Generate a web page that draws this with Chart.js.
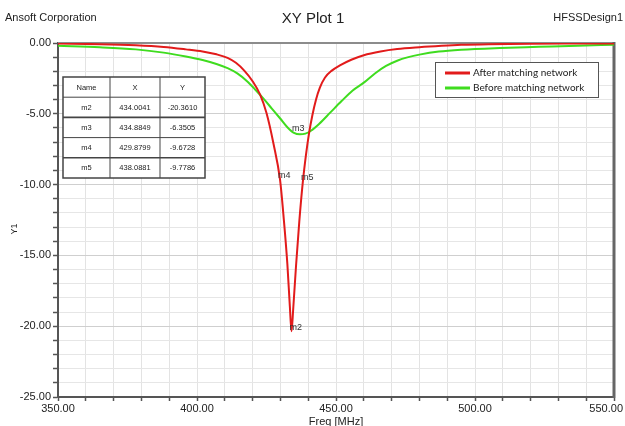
<!DOCTYPE html>
<html>
<head>
<meta charset="utf-8">
<script src="https://cdn.jsdelivr.net/npm/chart.js@4.4.1/dist/chart.umd.min.js"></script>
<style>
  html, body { margin: 0; padding: 0; background: #fff; overflow: hidden; }
  #wrap { width: 625px; height: 426px; }
</style>
</head>
<body>
<div id="wrap"><canvas id="c" width="625" height="426"></canvas></div>
<script>
// S11 sweep, dB versus frequency in MHz
const freqAfter = [350, 365, 378, 388, 396, 402, 407, 411, 414, 417, 420, 422.7, 425, 427.5,
  429.8799, 431.2, 432.5, 433.4, 434.0041, 434.6, 435.6, 436.8, 438.0881, 439.2, 440.2, 441.5, 442.8,
  444.2, 446, 448.5, 451.4, 455.5, 460, 466, 472, 480, 488, 495, 505, 520, 535, 550];
const lossAfter = [-0.04, -0.08, -0.16, -0.28, -0.45, -0.6, -0.8, -1.05, -1.4, -1.95, -2.7, -3.65, -4.95, -7.1,
  -9.6728, -12.4, -15.6, -18.6, -20.361, -18.8, -15.8, -12.6, -9.7786, -7.9, -6.5, -5.1, -4.0,
  -3.15, -2.45, -1.95, -1.58, -1.18, -0.86, -0.6, -0.43, -0.3, -0.2, -0.13, -0.08, -0.05, -0.04, -0.03];

const freqBefore = [350, 365, 378, 388, 396, 402, 407, 411, 414.5, 418, 421, 424, 427, 430, 432.5,
  434.8849, 437, 439, 441, 444, 448, 452, 456, 460, 464, 468, 472, 476, 480, 487, 495, 509, 523, 537, 550];
const lossBefore = [-0.2, -0.3, -0.45, -0.68, -0.95, -1.2, -1.48, -1.78, -2.15, -2.7, -3.3, -3.95, -4.65, -5.35, -5.95,
  -6.3505, -6.45, -6.4, -6.2, -5.7, -4.9, -4.1, -3.35, -2.8, -2.15, -1.62, -1.25, -1.0, -0.82, -0.6, -0.47, -0.35, -0.27, -0.19, -0.12];

const seriesNames = ['After matching network', 'Before matching network'];

// marker readouts
const markerNames = ['m2', 'm3', 'm4', 'm5'];
const markerFreq = [434.0041, 434.8849, 429.8799, 438.0881];
const markerLoss = [-20.3610, -6.3505, -9.6728, -9.7786];

// labelled ticks
const xMajorTicks = [350, 400, 450, 500, 550];
const yMajorTicks = [0, -5, -10, -15, -20, -25];

const FONT = '"Liberation Sans", Arial, sans-serif';
const RED = '#e21b1b';
const GREEN = '#3fdc1f';

const toPoints = (xs, ys) => xs.map((x, i) => ({ x: x, y: ys[i] }));

const decorations = {
  id: 'decorations',
  beforeDatasetsDraw(chart) {
    const { ctx, chartArea: a } = chart;
    ctx.save();
    ctx.strokeStyle = '#8c8c8c';
    ctx.lineWidth = 2;
    ctx.beginPath(); ctx.moveTo(a.left, a.top); ctx.lineTo(a.right, a.top); ctx.stroke();
    ctx.strokeStyle = '#666';
    ctx.lineWidth = 3;
    ctx.beginPath(); ctx.moveTo(a.right, a.top - 1); ctx.lineTo(a.right, a.bottom + 1); ctx.stroke();
    ctx.restore();
  },
  afterDraw(chart) {
    const { ctx, chartArea: a, scales } = chart;
    const xs = scales.x, ys = scales.y;
    ctx.save();
    ctx.fillStyle = '#222';

    // header texts
    ctx.textBaseline = 'middle';
    ctx.font = '11px ' + FONT;
    ctx.textAlign = 'left';
    ctx.fillText('Ansoft Corporation', 5, 18);
    ctx.textAlign = 'right';
    ctx.fillText('HFSSDesign1', 623, 18);
    ctx.textAlign = 'center';
    ctx.font = '15px ' + FONT;
    ctx.fillText('XY Plot 1', 313, 19);

    // x tick labels
    ctx.font = '11px ' + FONT;
    ctx.textBaseline = 'middle';
    xs.ticks.forEach(t => {
      if (!xMajorTicks.includes(t.value)) return;
      const s = t.value.toFixed(2);
      const w = ctx.measureText(s).width;
      let px = xs.getPixelForValue(t.value);
      px = Math.min(px, chart.width - w / 2 - 2);
      ctx.textAlign = 'center';
      ctx.fillText(s, px, a.bottom + 12);
    });

    // axis titles
    ctx.textBaseline = 'alphabetic';
    ctx.fillText('Freq [MHz]', (a.left + a.right) / 2, 425);
    ctx.save();
    ctx.translate(15, 229);
    ctx.rotate(-Math.PI / 2);
    ctx.font = '9px ' + FONT;
    ctx.textAlign = 'center';
    ctx.textBaseline = 'middle';
    ctx.fillText('Y1', 0, 0);
    ctx.restore();

    // marker labels
    ctx.font = '9px ' + FONT;
    ctx.textAlign = 'left';
    ctx.textBaseline = 'middle';
    ctx.fillStyle = '#333';
    markerNames.forEach((n, i) => {
      const px = xs.getPixelForValue(markerFreq[i]);
      const py = ys.getPixelForValue(markerLoss[i]);
      ctx.fillText(n, px - 2, py - 4);
    });

    // marker table
    const tx = 63, ty = 77, colW = [47, 50, 45], rowH = 20.2;
    const rows = [['Name', 'X', 'Y']].concat(markerNames.map((n, i) => [n, markerFreq[i].toFixed(4), markerLoss[i].toFixed(4)]));
    const tw = colW.reduce((s, v) => s + v, 0), th = rowH * rows.length;
    ctx.fillStyle = '#fff';
    ctx.fillRect(tx, ty, tw, th);
    ctx.strokeStyle = '#444';
    ctx.lineWidth = 1;
    for (let r = 1; r < rows.length; r++) {
      ctx.lineWidth = (r === 2 || r === 4) ? 1.6 : 1;
      ctx.beginPath(); ctx.moveTo(tx, ty + r * rowH); ctx.lineTo(tx + tw, ty + r * rowH); ctx.stroke();
    }
    ctx.lineWidth = 1;
    let cx = tx;
    for (let c = 0; c < colW.length - 1; c++) {
      cx += colW[c];
      ctx.beginPath(); ctx.moveTo(cx, ty); ctx.lineTo(cx, ty + th); ctx.stroke();
    }
    ctx.lineWidth = 1.5;
    ctx.strokeRect(tx, ty, tw, th);
    ctx.fillStyle = '#222';
    ctx.font = '7.5px ' + FONT;
    ctx.textAlign = 'center';
    rows.forEach((row, r) => {
      let x0 = tx;
      row.forEach((cell, c) => {
        ctx.fillText(cell, x0 + colW[c] / 2, ty + r * rowH + rowH / 2 + 0.5);
        x0 += colW[c];
      });
    });

    // legend
    const lx = 435, ly = 62, lw = 163, lh = 35;
    ctx.fillStyle = '#fff';
    ctx.fillRect(lx, ly, lw, lh);
    ctx.strokeStyle = '#555';
    ctx.lineWidth = 1;
    ctx.strokeRect(lx + 0.5, ly + 0.5, lw, lh);
    ctx.font = '10px Lato, "Open Sans", sans-serif';
    ctx.textAlign = 'left';
    chart.data.datasets.forEach((ds, i) => {
      const yy = ly + 11 + i * 15;
      ctx.strokeStyle = ds.borderColor;
      ctx.lineWidth = 3;
      ctx.beginPath(); ctx.moveTo(lx + 10, yy); ctx.lineTo(lx + 35, yy); ctx.stroke();
      ctx.fillStyle = '#222';
      ctx.fillText(ds.label, lx + 38, yy);
    });
    ctx.restore();
  }
};

new Chart(document.getElementById('c'), {
  type: 'line',
  data: {
    datasets: [
      { label: seriesNames[0], data: toPoints(freqAfter, lossAfter), borderColor: RED, borderWidth: 2,
        pointRadius: 0, cubicInterpolationMode: 'monotone', fill: false },
      { label: seriesNames[1], data: toPoints(freqBefore, lossBefore), borderColor: GREEN, borderWidth: 2,
        pointRadius: 0, cubicInterpolationMode: 'monotone', fill: false }
    ]
  },
  options: {
    responsive: false,
    animation: false,
    devicePixelRatio: 1,
    layout: { padding: { top: 43, right: 11, left: 0, bottom: 0 } },
    plugins: { legend: { display: false }, title: { display: false }, tooltip: { enabled: false } },
    scales: {
      x: {
        type: 'linear', min: 350, max: 550,
        ticks: { stepSize: 10, display: false, autoSkip: false },
        grid: { color: '#e3e3e3', lineWidth: 1, drawTicks: true, tickLength: 4, tickColor: '#555', tickWidth: 1.5 },
        border: { display: true, color: '#555', width: 2 },
        afterFit(scale) { scale.height = 29; scale.paddingLeft = 0; scale.paddingRight = 0; }
      },
      y: {
        type: 'linear', min: -25, max: 0,
        ticks: {
          stepSize: 1, autoSkip: false, padding: 2, color: '#222',
          font: { family: FONT, size: 11 },
          callback: v => yMajorTicks.includes(v) ? v.toFixed(2) : ''
        },
        grid: {
          color: ctx => (ctx.tick && ctx.tick.value % 5 === 0) ? '#cfcfcf' : '#e6e6e6',
          lineWidth: 1, drawTicks: true, tickLength: 5, tickColor: '#555', tickWidth: 1.5
        },
        border: { display: true, color: '#555', width: 2 },
        afterFit(scale) { scale.width = 58; }
      }
    }
  },
  plugins: [decorations]
});
</script>
</body>
</html>
